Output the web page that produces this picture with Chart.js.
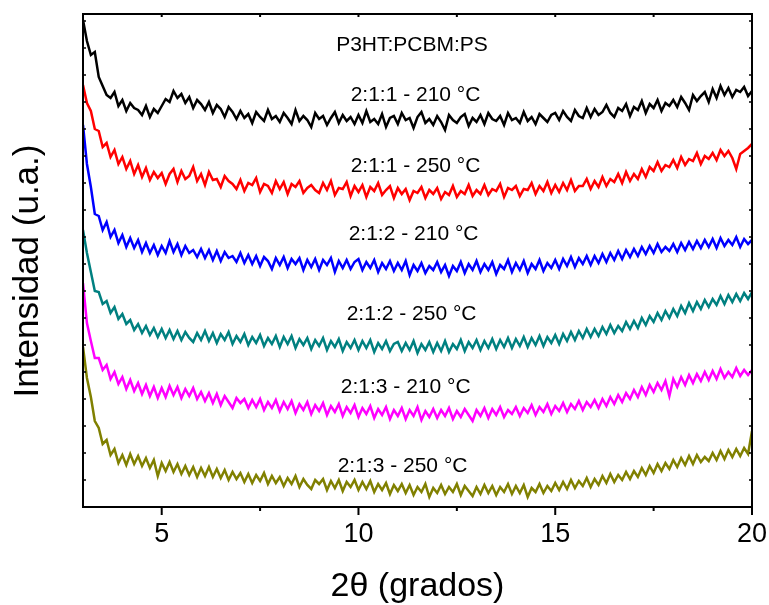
<!DOCTYPE html>
<html>
<head>
<meta charset="utf-8">
<script src="https://cdn.jsdelivr.net/npm/chart.js@4/dist/chart.umd.min.js"></script>
<style>
  html, body { margin: 0; padding: 0; background: #fff; }
  #wrap { width: 769px; height: 605px; }
</style>
</head>
<body>
<div id="wrap"><canvas id="xrdChart" width="769" height="605"></canvas></div>
<script>
// 2-theta positions (degrees)
const twoTheta = [
  3.0, 3.1, 3.2, 3.3, 3.4, 3.5, 3.6, 3.7, 3.8, 3.9,
  4.0, 4.1, 4.2, 4.3, 4.4, 4.5, 4.6, 4.7, 4.8, 4.9,
  5.0, 5.1, 5.2, 5.3, 5.4, 5.5, 5.6, 5.7, 5.8, 5.9,
  6.0, 6.1, 6.2, 6.3, 6.4, 6.5, 6.6, 6.7, 6.8, 6.9,
  7.0, 7.1, 7.2, 7.3, 7.4, 7.5, 7.6, 7.7, 7.8, 7.9,
  8.0, 8.1, 8.2, 8.3, 8.4, 8.5, 8.6, 8.7, 8.8, 8.9,
  9.0, 9.1, 9.2, 9.3, 9.4, 9.5, 9.6, 9.7, 9.8, 9.9,
  10.0, 10.1, 10.2, 10.3, 10.4, 10.5, 10.6, 10.7, 10.8, 10.9,
  11.0, 11.1, 11.2, 11.3, 11.4, 11.5, 11.6, 11.7, 11.8, 11.9,
  12.0, 12.1, 12.2, 12.3, 12.4, 12.5, 12.6, 12.7, 12.8, 12.9,
  13.0, 13.1, 13.2, 13.3, 13.4, 13.5, 13.6, 13.7, 13.8, 13.9,
  14.0, 14.1, 14.2, 14.3, 14.4, 14.5, 14.6, 14.7, 14.8, 14.9,
  15.0, 15.1, 15.2, 15.3, 15.4, 15.5, 15.6, 15.7, 15.8, 15.9,
  16.0, 16.1, 16.2, 16.3, 16.4, 16.5, 16.6, 16.7, 16.8, 16.9,
  17.0, 17.1, 17.2, 17.3, 17.4, 17.5, 17.6, 17.7, 17.8, 17.9,
  18.0, 18.1, 18.2, 18.3, 18.4, 18.5, 18.6, 18.7, 18.8, 18.9,
  19.0, 19.1, 19.2, 19.3, 19.4, 19.5, 19.6, 19.7, 19.8, 19.9,
  20.0
];

// intensities (a.u., curves already offset as in the figure)
const s211_210 = [
  487, 466, 452, 455, 430, 421, 412, 409, 415, 401,
  407, 396, 404, 399, 397, 392, 401, 390, 398, 394,
  401, 408, 405, 416, 409, 413, 404, 410, 399, 407,
  403, 397, 405, 394, 402, 398, 390, 400, 395, 388,
  396, 389, 393, 384, 395, 390, 386, 397, 388, 391,
  385, 394, 389, 383, 397, 386, 391, 387, 380, 394,
  388, 391, 382, 389, 395, 384, 392, 386, 390, 383,
  392, 384, 396, 385, 388, 383, 393, 380, 389, 391,
  383, 394, 387, 389, 379, 390, 395, 384, 388, 382,
  391, 385, 377, 392, 387, 384, 390, 393, 381, 389,
  385, 392, 383, 394, 388, 386, 391, 382, 394, 387,
  389, 384, 395, 386, 390, 383, 393, 389, 385, 392,
  394, 387, 396, 390, 386, 397, 391, 389, 399, 390,
  398, 392, 395, 402, 394, 390, 399, 396, 403, 391,
  400, 397, 406, 394, 403, 399, 407, 396, 404, 401,
  407, 400, 410, 404, 397, 412, 406, 411, 415, 405,
  418, 409, 421, 412, 419, 410, 417, 415, 420, 411,
  416
];
const s211_250 = [
  422, 404, 396, 378, 376, 360, 364, 350, 357, 343,
  350, 338, 346, 333, 342, 330, 339, 327, 335, 329,
  334, 323, 333, 338, 325, 336, 328, 331, 340, 326,
  333, 322, 335, 327, 328, 320, 331, 326, 323, 318,
  327, 316, 324, 322, 329, 315, 323, 321, 314, 326,
  318, 325, 313, 323, 320, 326, 314, 319, 322, 317,
  314, 324, 317, 326, 312, 319, 318, 325, 311, 321,
  315, 322, 310, 320, 316, 324, 312, 317, 321, 309,
  319, 313, 318, 307, 316, 314, 320, 309, 317, 313,
  319, 308, 315, 312, 321, 310, 316, 313, 322, 311,
  317, 313, 322, 312, 318, 316, 323, 310, 319, 317,
  321, 311, 318, 317, 324, 313, 321, 316, 325, 314,
  322, 315, 324, 317, 327, 316, 321, 321, 328, 318,
  326, 320, 330, 321, 328, 325, 333, 324, 335, 326,
  333, 328, 338, 330, 340, 336, 345, 336, 342, 340,
  347, 339, 350, 342, 348, 346, 354, 343, 351, 348,
  354, 347, 357, 351, 356, 349, 338, 353, 356, 359,
  363
];
const s212_210 = [
  382, 343, 320, 293, 291, 277, 285, 270, 277, 264,
  272, 260, 269, 259, 267, 255, 264, 254, 262, 252,
  261, 254, 266, 255, 263, 252, 261, 254, 257, 250,
  258, 249, 257, 247, 256, 246, 255, 249, 251, 245,
  254, 244, 252, 243, 251, 241, 250, 246, 238, 249,
  242, 250, 239, 248, 243, 249, 237, 247, 240, 248,
  237, 247, 242, 249, 235, 246, 239, 247, 238, 245,
  248, 237, 245, 239, 247, 235, 244, 238, 246, 236,
  244, 237, 246, 232, 242, 236, 244, 234, 241, 237,
  245, 235, 242, 231, 241, 236, 245, 234, 243, 237,
  246, 235, 243, 237, 245, 233, 242, 238, 247, 235,
  244, 237, 246, 234, 243, 238, 247, 236, 244, 239,
  247, 238, 248, 241, 250, 240, 249, 243, 251, 242,
  251, 244, 253, 245, 254, 247, 256, 248, 257, 250,
  258, 251, 260, 253, 261, 254, 263, 255, 260, 256,
  263, 255, 264, 257, 265, 258, 266, 259, 267, 260,
  268, 259, 269, 261, 267, 262, 270, 260, 268, 263,
  267
];
const s212_250 = [
  277, 254, 235, 216, 215, 203, 206, 194, 200, 188,
  193, 183, 187, 177, 183, 174, 181, 172, 179, 170,
  178, 169, 177, 168, 176, 167, 175, 169, 165, 174,
  167, 176, 166, 174, 164, 173, 167, 175, 163, 171,
  165, 173, 162, 170, 164, 172, 161, 169, 163, 171,
  160, 170, 163, 171, 159, 168, 162, 169, 158, 167,
  161, 169, 157, 166, 160, 168, 156, 165, 159, 167,
  157, 166, 159, 167, 155, 164, 158, 166, 156, 163,
  165, 156, 164, 157, 166, 154, 163, 157, 165, 155,
  164, 156, 166, 155, 163, 158, 167, 156, 165, 159,
  167, 157, 166, 159, 168, 158, 167, 160, 169, 159,
  168, 161, 170, 160, 169, 162, 171, 161, 170, 164,
  172, 163, 173, 166, 175, 167, 176, 169, 178, 170,
  178, 171, 180, 173, 182, 174, 181, 176, 185, 178,
  186, 179, 189, 182, 191, 185, 194, 187, 196, 189,
  198, 191, 201, 194, 204, 196, 205, 198, 207, 200,
  208, 202, 211, 203, 212, 205, 213, 206, 214, 208,
  215
];
const s213_210 = [
  224, 184, 166, 149, 149, 137, 142, 128, 135, 123,
  130, 118, 127, 116, 124, 113, 122, 111, 120, 109,
  119, 110, 121, 112, 120, 109, 118, 111, 119, 108,
  115, 106, 114, 104, 113, 102, 111, 105, 99, 109,
  104, 108, 99, 107, 100, 108, 97, 105, 99, 107,
  96, 105, 98, 106, 94, 103, 97, 105, 93, 102,
  96, 104, 92, 101, 95, 103, 91, 100, 94, 102,
  90, 99, 93, 101, 89, 98, 92, 100, 88, 97,
  91, 99, 88, 97, 91, 100, 87, 96, 90, 98,
  89, 97, 91, 99, 88, 96, 90, 98, 92, 86,
  97, 91, 99, 89, 98, 92, 100, 90, 97, 93,
  100, 91, 99, 94, 102, 92, 100, 95, 103, 93,
  101, 96, 104, 95, 103, 98, 106, 97, 105, 100,
  107, 99, 108, 101, 110, 103, 112, 105, 114, 108,
  117, 110, 120, 112, 122, 115, 124, 117, 126, 111,
  128, 120, 130, 122, 132, 124, 133, 126, 135, 127,
  136, 128, 138, 129, 135, 130, 139, 131, 137, 132,
  137
];
const s213_250 = [
  160, 129, 110, 86, 79, 63, 67, 52, 58, 44,
  52, 42, 53, 43, 51, 41, 49, 39, 47, 31,
  44, 36, 45, 35, 43, 33, 41, 32, 40, 30,
  39, 31, 40, 30, 38, 29, 37, 27, 35, 28,
  34, 25, 33, 24, 32, 26, 34, 23, 31, 24,
  30, 21, 29, 23, 31, 20, 28, 22, 18, 27,
  23, 28, 17, 26, 19, 27, 16, 25, 20, 27,
  17, 25, 18, 26, 15, 23, 17, 24, 13, 22,
  16, 23, 14, 22, 12, 20, 15, 23, 10, 19,
  14, 22, 13, 20, 15, 23, 12, 21, 16, 11,
  20, 13, 22, 14, 21, 12, 20, 15, 23, 13,
  21, 14, 22, 10, 19, 15, 23, 14, 21, 16,
  24, 17, 25, 18, 27, 19, 26, 21, 29, 20,
  28, 22, 31, 24, 33, 25, 32, 27, 35, 28,
  36, 30, 39, 32, 41, 34, 43, 36, 44, 38,
  47, 40, 49, 42, 51, 43, 52, 45, 50, 46,
  54, 47, 56, 48, 57, 50, 58, 51, 59, 53,
  76
];

const seriesNames = ['2:1:1 - 210 °C', '2:1:1 - 250 °C', '2:1:2 - 210 °C', '2:1:2 - 250 °C', '2:1:3 - 210 °C', '2:1:3 - 250 °C'];
const seriesColors = ['#000000', '#ff0000', '#0000ff', '#008080', '#ff00ff', '#808000'];
const seriesData = [s211_210, s211_250, s212_210, s212_250, s213_210, s213_250];

// x axis tick labels (major) and minor ticks
const xMajorTicks = [5, 10, 15, 20];
const xMinorTicks = [7.5, 12.5, 17.5];

// in-plot labels: text, 2θ centre, intensity centre
const noteText = ['P3HT:PCBM:PS', '2:1:1 - 210 °C', '2:1:1 - 250 °C', '2:1:2 - 210 °C', '2:1:2 - 250 °C', '2:1:3 - 210 °C', '2:1:3 - 250 °C'];
const noteX = [11.36, 11.45, 11.45, 11.4, 11.35, 11.2, 11.12];
const noteY = [462, 412, 341, 273, 193, 120, 41];

const yTitle = 'Intensidad (u.a.)';
const FONT = "'Liberation Sans', Arial, sans-serif";

const framePlugin = {
    id: 'frame',
    afterDatasetsDraw(chart) {
        const { ctx, chartArea: a, scales: { x, y } } = chart;
        ctx.save();
        ctx.strokeStyle = '#000';
        ctx.lineWidth = 2;
        ctx.strokeRect(a.left, a.top, a.right - a.left, a.bottom - a.top);
        const seg = (x1, y1, x2, y2) => {
            ctx.beginPath();
            ctx.moveTo(x1, y1);
            ctx.lineTo(x2, y2);
            ctx.stroke();
        };
        xMajorTicks.concat(xMinorTicks).forEach(v => {
            const px = x.getPixelForValue(v);
            const len = xMajorTicks.includes(v) ? 8 : 4;
            seg(px, a.bottom, px, a.bottom + len);
            seg(px, a.top, px, a.top + 3);
        });
        ctx.lineWidth = 1.5;
        for (let v = 27; v < 493; v += 27) {
            const py = y.getPixelForValue(v);
            seg(a.left, py, a.left + 3, py);
            seg(a.right, py, a.right - 3, py);
        }
        // labels inside the plot
        ctx.fillStyle = '#000';
        ctx.font = '21px ' + FONT;
        ctx.textAlign = 'center';
        ctx.textBaseline = 'middle';
        noteText.forEach((t, i) => {
            ctx.fillText(t, x.getPixelForValue(noteX[i]), y.getPixelForValue(noteY[i]));
        });
        // y axis title, a little below the middle as in the original
        ctx.translate(28, y.getPixelForValue(236));
        ctx.rotate(-Math.PI / 2);
        ctx.font = '35px ' + FONT;
        ctx.fillText(yTitle, 0, 0);
        ctx.restore();
    }
};

function createXrdChart() {
    const ctx = document.getElementById('xrdChart').getContext('2d');
    new Chart(ctx, {
        type: 'line',
        data: {
            datasets: seriesData.map((vals, i) => ({
                label: seriesNames[i],
                data: vals.map((v, j) => ({ x: twoTheta[j], y: v })),
                borderColor: seriesColors[i],
                borderWidth: 2.5,
                pointRadius: 0,
                fill: false,
                tension: 0
            }))
        },
        options: {
            responsive: false,
            animation: false,
            layout: { padding: { top: 14, right: 17, left: 0, bottom: 0 } },
            plugins: {
                legend: { display: false },
                tooltip: { enabled: false }
            },
            scales: {
                x: {
                    type: 'linear',
                    min: 3,
                    max: 20,
                    afterBuildTicks: scale => {
                        scale.ticks = xMajorTicks.map(v => ({ value: v }));
                    },
                    afterFit: scale => {
                        scale.height = 98;
                        scale.paddingRight = 0;
                        scale.paddingLeft = 0;
                    },
                    grid: { display: false, drawTicks: false },
                    border: { display: false },
                    ticks: {
                        color: '#000',
                        padding: 11,
                        maxRotation: 0,
                        autoSkip: false,
                        font: { family: FONT, size: 27 }
                    },
                    title: {
                        display: true,
                        text: '2θ (grados)',
                        color: '#000',
                        padding: { top: 0, bottom: -2 },
                        font: { family: FONT, size: 34 }
                    }
                },
                y: {
                    min: 0,
                    max: 493,
                    afterFit: scale => { scale.width = 83; },
                    grid: { display: false, drawTicks: false },
                    border: { display: false },
                    ticks: { display: false },
                    title: { display: false }
                }
            }
        },
        plugins: [framePlugin]
    });
}

createXrdChart();
</script>
</body>
</html>
